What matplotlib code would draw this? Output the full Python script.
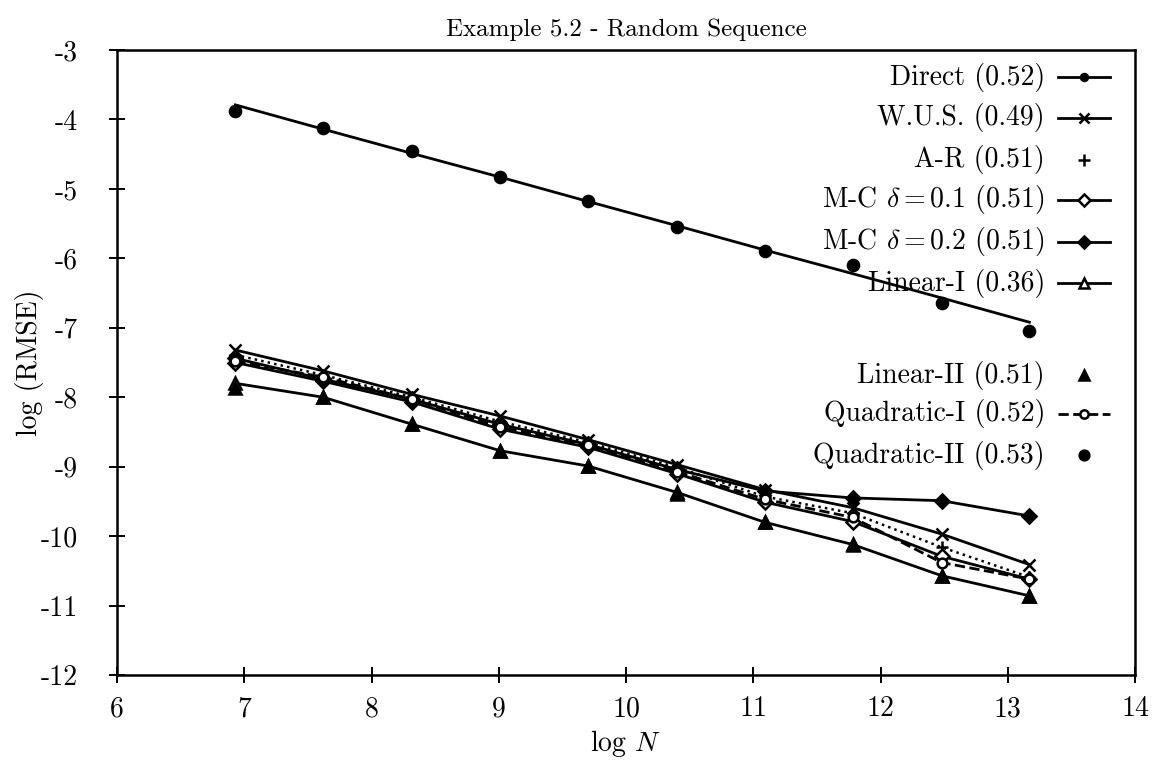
import numpy as np
import matplotlib
matplotlib.use('Agg')
import matplotlib.pyplot as plt

plt.rcParams['font.family'] = ['cmr10', 'DejaVu Serif']
plt.rcParams['mathtext.fontset'] = 'cm'
plt.rcParams['axes.unicode_minus'] = False

# log N  (N = 2^10 ... 2^19)
log_n = [6.93, 7.62, 8.32, 9.01, 9.70, 10.40, 11.09, 11.78, 12.48, 13.17]

# log(RMSE)
direct = [-3.79, -4.14, -4.49, -4.83, -5.18, -5.53, -5.88, -6.22, -6.57, -6.92]
wus = [-7.32, -7.62, -7.96, -8.27, -8.61, -8.97, -9.33, -9.59, -9.97, -10.41]
ar = [-7.39, -7.68, -8.00, -8.35, -8.65, -9.01, -9.43, -9.67, -10.16, -10.59]
mc1 = [-7.50, -7.77, -8.07, -8.46, -8.72, -9.10, -9.51, -9.79, -10.29, -10.62]
mc2 = [-7.44, -7.74, -8.03, -8.39, -8.68, -9.04, -9.35, -9.45, -9.49, -9.71]
lin1 = [-7.80, -8.00, -8.39, -8.77, -8.99, -9.37, -9.80, -10.12, -10.57, -10.86]
lin2 = [-7.86, -8.00, -8.39, -8.77, -8.99, -9.40, -9.80, -10.13, -10.57, -10.86]
quad1 = [-7.48, -7.71, -8.03, -8.43, -8.69, -9.07, -9.47, -9.73, -10.38, -10.62]
quad2 = [-3.88, -4.12, -4.46, -4.83, -5.18, -5.55, -5.90, -6.10, -6.65, -7.05]

labels = ['Direct (0.52)', 'W.U.S. (0.49)', 'A-R (0.51)',
          r'M-C $\delta = 0.1$ (0.51)', r'M-C $\delta = 0.2$ (0.51)',
          'Linear-I (0.36)', 'Linear-II (0.51)', 'Quadratic-I (0.52)',
          'Quadratic-II (0.53)']

x_ticks = [6, 7, 8, 9, 10, 11, 12, 13, 14]
y_ticks = [-3, -4, -5, -6, -7, -8, -9, -10, -11, -12]

# styles: (linestyle, marker, filled, ms)
styles = [
    ('-', 'o', True, 6),
    ('-', 'x', True, 8),
    ('none', '+', True, 9),
    ('-', 'D', False, 7),
    ('-', 'D', True, 7),
    ('-', '^', False, 8),
    ('none', '^', True, 8),
    ('--', 'o', False, 7),
    ('none', 'o', True, 8),
]
series = [direct, wus, ar, mc1, mc2, lin1, lin2, quad1, quad2]

fig = plt.figure(figsize=(11.57, 7.72), dpi=100)
ax = fig.add_axes([117 / 1157, 1 - 675 / 772, 1018 / 1157, 625 / 772])

# the A-R curve is also drawn as a dotted line
ax.plot(log_n, ar, linestyle=':', color='black', lw=1.8)

for i, (y, (ls, mk, filled, ms)) in enumerate(zip(series, styles)):
    if i == 0:
        # direct: only the line shows in the plot
        ax.plot(log_n, y, linestyle=ls, color='black', lw=2.0)
        continue
    ax.plot(log_n, y, linestyle=ls, color='black', lw=2.0, marker=mk,
            ms=ms, mfc='black' if filled else 'white', mec='black', mew=1.8)

ax.set_xlim(6, 14)
ax.set_ylim(-12, -3)
ax.set_xticks(x_ticks, [str(t) for t in x_ticks])
ax.set_yticks(y_ticks, [str(t) for t in y_ticks])
ax.tick_params(axis='both', which='both', direction='inout', length=12,
               width=1.4, labelsize=20)
ax.tick_params(axis='y', pad=22)
ax.tick_params(axis='x', pad=9)
for s in ax.spines.values():
    s.set_linewidth(1.8)

ax.set_title('Example 5.2 - Random Sequence', fontsize=18, pad=10)
ax.set_xlabel(r'log $N$', fontsize=20)
ax.set_ylabel('log (RMSE)', fontsize=20)
ax.yaxis.set_label_coords(-0.072, 0.5)
ax.xaxis.set_label_coords(0.5, -0.085)

# hand-made legend (text right aligned, sample on the right)
row_px = [77, 118, 160, 200, 242, 283, 375, 414, 455]
def fx(px):
    return (px - 117) / 1018
def fy(py):
    return (675 - py) / 625

for lab, (ls, mk, filled, ms), py in zip(labels, styles, row_px):
    ax.text(fx(1045), fy(py), lab, ha='right', va='center', fontsize=20,
            transform=ax.transAxes)
    if ls != 'none':
        ax.plot([fx(1058), fx(1110)], [fy(py), fy(py)], linestyle=ls,
                color='black', lw=2.0, transform=ax.transAxes, clip_on=False)
    ax.plot([fx(1084)], [fy(py)], marker=mk, ms=ms - 1, color='black',
            mfc='black' if filled else 'white', mec='black', mew=1.8,
            transform=ax.transAxes, clip_on=False)

fig.savefig('out.png', dpi=100)
